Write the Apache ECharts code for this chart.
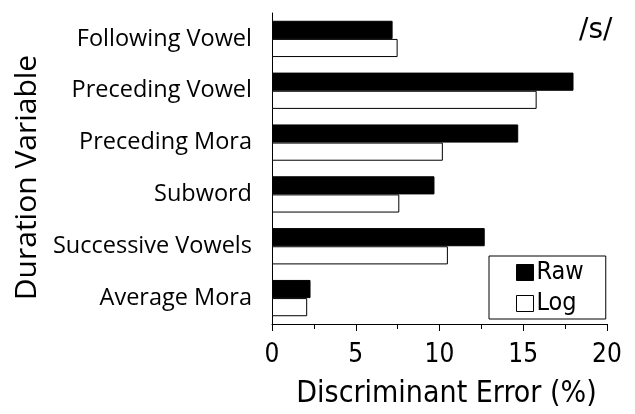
<!DOCTYPE html>
<html><head><meta charset="utf-8">
<script src="https://cdn.jsdelivr.net/npm/echarts@6/dist/echarts.min.js"></script>
<style>html,body{margin:0;padding:0;background:#fff}#c{width:635px;height:414px}</style>
</head><body><div id="c"></div>
<script>
const categories = ['Following Vowel','Preceding Vowel','Preceding Mora','Subword','Successive Vowels','Average Mora'];
const rawValues = [7.2, 18.0, 14.7, 9.7, 12.7, 2.3];
const logValues = [7.5, 15.8, 10.2, 7.6, 10.5, 2.1];
const xTicks = [0, 5, 10, 15, 20];

const narrow = '"DejaVu Sans Condensed", "Liberation Sans Narrow", "Liberation Sans", sans-serif';
const catFont = '"Open Sans", Lato, sans-serif';
const chart = echarts.init(document.getElementById('c'));
chart.setOption({
  animation: false,
  grid: {left: 272, right: 28, top: 13, bottom: 87, containLabel: false},
  legend: {
    left: 489, top: 256, orient: 'vertical', itemWidth: 17, itemHeight: 16, itemGap: 6,
    borderColor: '#000', borderWidth: 1, padding: [4, 22, 3, 27],
    textStyle: {fontFamily: narrow, fontSize: 25, color: '#000', padding: [0, 0, 0, -2]},
    data: [
      {name: 'Raw', icon: 'rect', itemStyle: {color: '#000', borderColor: '#000', borderWidth: 1}},
      {name: 'Log', icon: 'rect', itemStyle: {color: '#fff', borderColor: '#000', borderWidth: 1}}
    ]
  },
  xAxis: {
    type: 'value', min: xTicks[0], max: xTicks[xTicks.length - 1], interval: 5,
    name: 'Discriminant Error (%)', nameLocation: 'middle', nameGap: 55,
    nameTextStyle: {fontFamily: narrow, fontSize: 30, color: '#000', padding: [0, 0, 0, 14]},
    axisLine: {show: true, lineStyle: {color: '#000', width: 1}},
    axisTick: {show: true, length: 7, lineStyle: {color: '#000'}},
    minorTick: {show: true, splitNumber: 2, length: 5, lineStyle: {color: '#000'}},
    splitLine: {show: false},
    axisLabel: {fontFamily: narrow, fontSize: 26, color: '#000', margin: 18}
  },
  yAxis: {
    type: 'category', inverse: true, data: categories,
    name: 'Duration Variable', nameLocation: 'middle', nameGap: 230, nameRotate: 90,
    nameTextStyle: {fontFamily: catFont, fontSize: 30, color: '#000', padding: [0, 18, 0, 0]},
    axisLine: {show: true, lineStyle: {color: '#000', width: 1}},
    axisTick: {show: false},
    axisLabel: {fontFamily: catFont, fontSize: 23.5, color: '#000', margin: 20}
  },
  graphic: [{type: 'text', left: 579, top: 17, style: {text: '/s/', fontFamily: '"DejaVu Sans", sans-serif', fontSize: 28, fill: '#000'}}],
  series: [
    {name: 'Raw', type: 'bar', data: rawValues, barGap: '0%', barCategoryGap: '30%',
     itemStyle: {color: '#000', borderColor: '#000', borderWidth: 1}},
    {name: 'Log', type: 'bar', data: logValues,
     itemStyle: {color: '#fff', borderColor: '#000', borderWidth: 1}}
  ]
});
</script></body></html>
